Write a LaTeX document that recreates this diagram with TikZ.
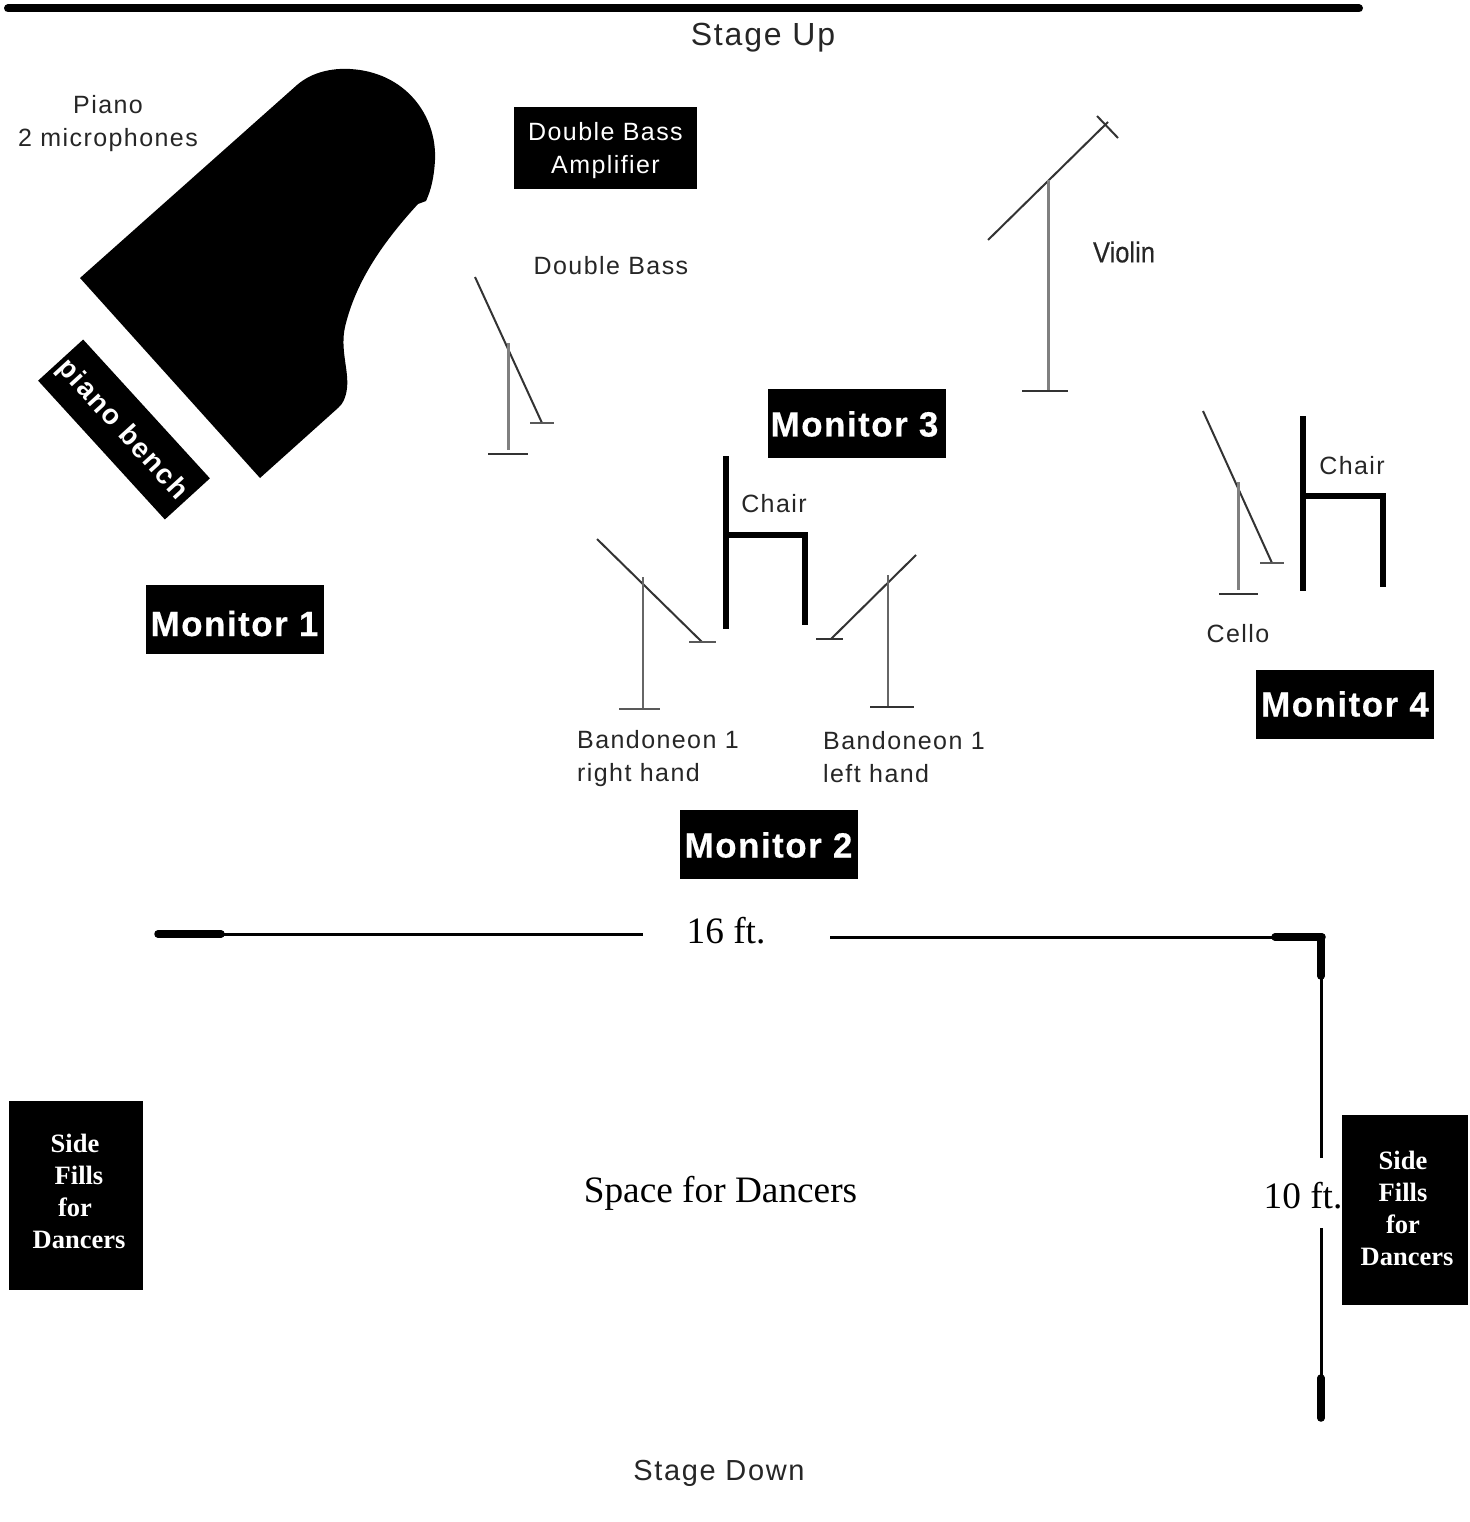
\documentclass[tikz,border=0pt]{standalone}
\usepackage{fontspec}
\setmainfont{Liberation Serif}
\newfontfamily\labfont[LetterSpace=5.7]{Liberation Sans}
\newfontfamily\monfont[LetterSpace=4.2,FakeBold=0.5]{Liberation Sans}
\newfontfamily\vlfont[FakeStretch=0.88,FakeBold=0.3]{Liberation Sans}
\tikzset{
  lab/.style={font=\labfont\fontsize{25}{33}\selectfont,text=black!85,align=left,inner sep=0pt},
  monbox/.style={fill=black,minimum width=178pt,minimum height=69pt,inner sep=0pt},
  montext/.style={text=white,font=\monfont\bfseries\fontsize{35}{40}\selectfont,inner sep=0pt},
  side/.style={fill=black,text=white,font=\bfseries\fontsize{26.5}{32}\selectfont,align=center,inner sep=0pt},
  thin line/.style={line width=2pt,draw=black!80},
  foot/.style={line width=2pt,draw=black!65},
  stand/.style={line width=2pt,draw=black!60},
  heavy stand/.style={line width=3pt,draw=black!50},
  chair/.style={line width=6pt,draw=black},
  dim/.style={line width=3pt,draw=black},
  dimend/.style={line width=7.5pt,draw=black,line cap=round},
  big/.style={font=\fontsize{37.3}{44}\selectfont,inner sep=0pt}
}
\begin{document}
\begin{tikzpicture}[x=1pt,y=-1pt]
\useasboundingbox (0,0) rectangle (1469,1522);
% top bar
\coordinate (t1) at (8,8.5); \coordinate (t2) at (1359,8.5);
\draw[line width=8pt,line cap=round] (t1) -- (t2);
\node[lab,font=\labfont\fontsize{32}{36}\selectfont] (su) at (763,38) {Stage Up};
\node[lab,font=\labfont\fontsize{29}{33}\selectfont] (sd) at (719,1473) {Stage Down};
% piano
\fill[black] (80,278) -- (297,85) .. controls (312,72) and (332,68) .. (350,69)
  .. controls (405,72) and (437,115) .. (435,160) .. controls (434,178) and (431,190) .. (426,201)
  -- (418,204) .. controls (385,240) and (356,280) .. (345,327) .. controls (340,350) and (349,370) .. (347,388)
  .. controls (346,398) and (342,405) .. (338,408) -- (260,478) -- cycle;
\node[lab,align=center] (pl) at (108,124) {Piano\\2 microphones};
% bench
\node[fill=black,minimum width=188pt,minimum height=61pt,rotate=-47.6,inner sep=0pt] (bench) at (124,429.5) {};
\node[text=white,rotate=-47.6,inner sep=0pt,font=\labfont\bfseries\fontsize{28}{30}\selectfont] (benchtext) at (122,430) {piano bench};
% amp
\node[fill=black,minimum width=183pt,minimum height=82pt,inner sep=0pt] (amp) at (605.5,148) {};
\node[text=white,inner sep=0pt,align=center,font=\labfont\fontsize{25}{33}\selectfont] (amptext) at (605.5,151) {Double Bass\\Amplifier};
\node[lab] (db) at (611,266) {Double Bass};
% double bass mic
\draw[thin line] (475,277) -- (542,423);
\draw[foot] (530,423) -- (554,423);
\draw[heavy stand] (508,343) -- (508,450);
\draw[thin line] (488,454) -- (528,454);
% violin mic
\draw[thin line] (988,240) -- (1108,122);
\draw[thin line] (1097,116) -- (1118,138);
\draw[heavy stand] (1048,180) -- (1048,391);
\draw[thin line] (1022,391) -- (1068,391);
\node[font=\vlfont\fontsize{29}{33}\selectfont,text=black!85,inner sep=0pt] (vl) at (1124,252) {Violin};
% monitors
\node[monbox] (m1) at (234.5,619) {};
\node[montext] (m1t) at (234.5,623.5) {Monitor 1};
\node[monbox] (m2) at (768.5,844.5) {};
\node[montext] (m2t) at (768.5,845) {Monitor 2};
\node[monbox] (m3) at (857,423.5) {};
\node[montext] (m3t) at (854.5,424) {Monitor 3};
\node[monbox] (m4) at (1345,704) {};
\node[montext] (m4t) at (1345,704) {Monitor 4};
% chairs
\draw[chair] (725.5,456) -- (725.5,629);
\draw[chair] (725.5,535) -- (805,535) -- (805,625);
\node[lab] (c1) at (774,504) {Chair};
\draw[chair] (1303,416) -- (1303,591);
\draw[chair] (1303,496) -- (1383,496) -- (1383,587);
\node[lab] (c2) at (1352,466) {Chair};
% bandoneon right
\draw[thin line] (597,539) -- (702,642);
\draw[foot] (689,642) -- (716,642);
\draw[stand] (643,577) -- (643,709);
\draw[foot] (619,709) -- (660,709);
\node[lab,anchor=west] (br) at (577,759) {Bandoneon 1\\right hand};
% bandoneon left
\draw[thin line] (916,555) -- (831,639);
\draw[thin line] (816,639) -- (843,639);
\draw[stand] (888,575) -- (888,707);
\draw[thin line] (870,707) -- (914,707);
\node[lab,anchor=west] (bl) at (823,757) {Bandoneon 1\\left hand};
% cello
\draw[thin line] (1203,411) -- (1272,563);
\draw[foot] (1260,563) -- (1284,563);
\draw[heavy stand] (1238,482) -- (1238,590);
\draw[thin line] (1219,594) -- (1258,594);
\node[lab] (ce) at (1238,634) {Cello};
% dimensions
\node[big] (d16) at (726,931) {16 ft.};
\coordinate (a1) at (158,934); \coordinate (a2) at (221,934); \coordinate (a3) at (643,934);
\draw[dim] (a1) -- (a3);
\draw[dimend] (a1) -- (a2);
\coordinate (b1) at (830,937); \coordinate (b2) at (1275,937); \coordinate (b3) at (1322,937);
\draw[dim] (b1) -- (b3);
\draw[dimend] (b2) -- (b3);
\coordinate (v1) at (1321,940); \coordinate (v2) at (1321,976); \coordinate (v3) at (1321,1158);
\coordinate (v4) at (1321,1228); \coordinate (v5) at (1321,1378); \coordinate (v6) at (1321,1418);
\draw[dim] (v1) -- (v3);
\draw[dimend] (v1) -- (v2);
\draw[dim] (v4) -- (v6);
\draw[dimend] (v5) -- (v6);
\node[big] (d10) at (1303,1195.5) {10 ft.};
\node[big] (sp) at (720.5,1193.5) {Space for Dancers};
% side fills
\fill[black] (9,1101) rectangle (143,1290);
\fill[black] (1342,1115) rectangle (1468,1305);
\node[side] (s1) at (76,1191) {\hspace*{-2pt}Side\\\hspace*{6pt}Fills\\\hspace*{-2pt}for\\\hspace*{6pt}Dancers};
\node[side] (s2) at (1404,1208) {\hspace*{-2pt}Side\\\hspace*{-2pt}Fills\\\hspace*{-2pt}for\\\hspace*{6pt}Dancers};
\end{tikzpicture}
\end{document}
